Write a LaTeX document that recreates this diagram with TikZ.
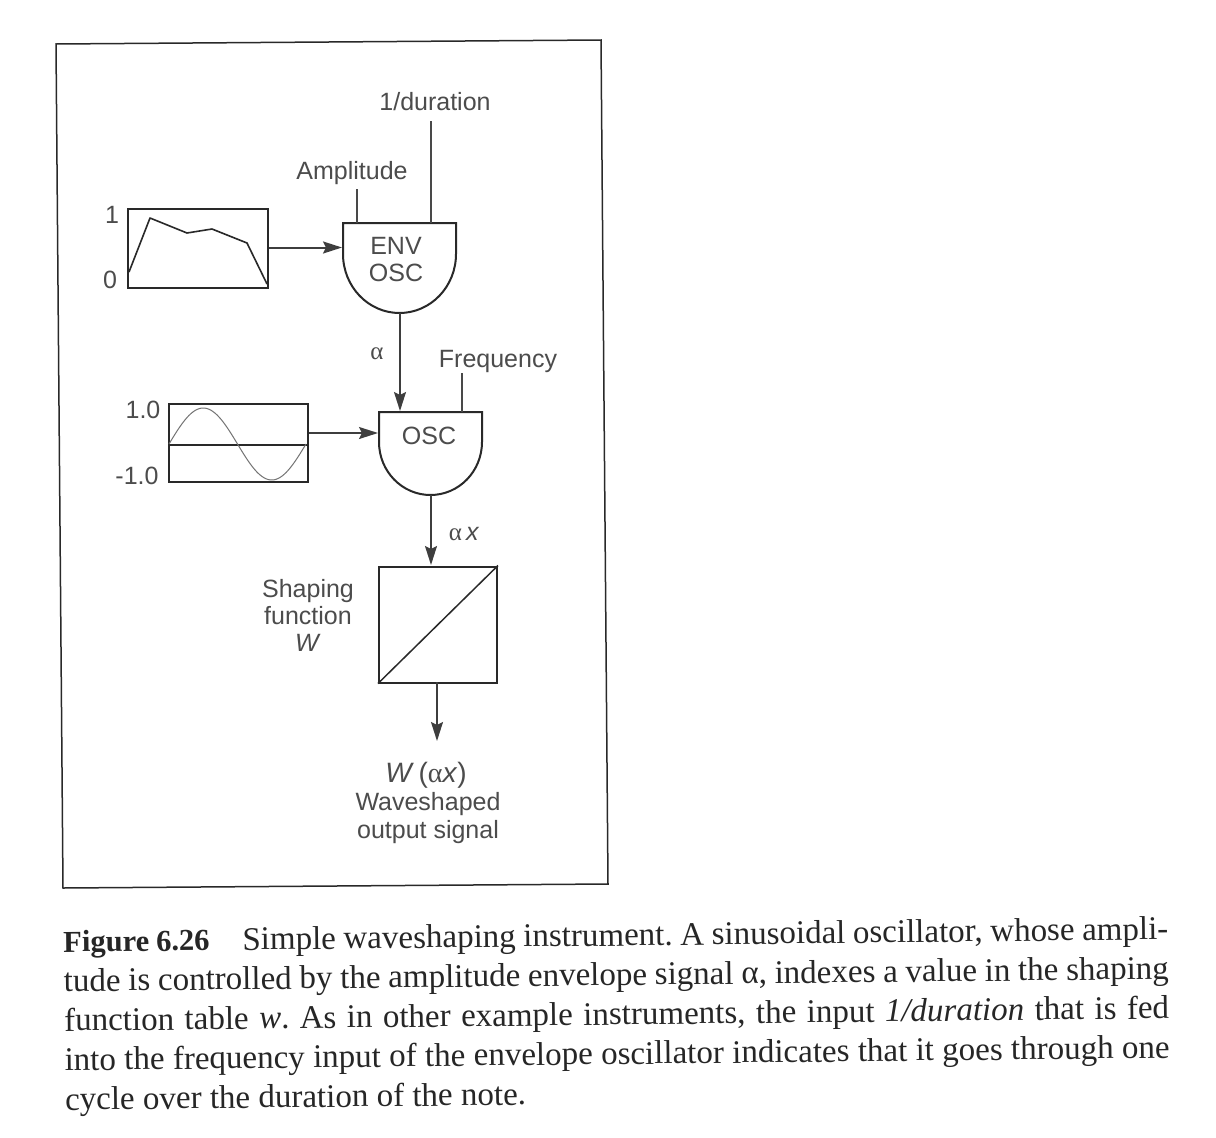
\documentclass[tikz,border=0pt]{standalone}
\usepackage{fontspec}
\setmainfont{Liberation Sans}
\newfontfamily\capfont{Liberation Serif}
\usetikzlibrary{arrows.meta}
\definecolor{ink}{gray}{0.16}
\definecolor{labelgrey}{gray}{0.30}
\tikzset{
  shapeline/.style={draw=ink,line width=2pt},
  thinline/.style={draw=ink!85,line width=1.3pt},
  sig/.style={draw=ink!90,line width=1.5pt,-{Stealth[length=19pt,width=12pt,inset=3pt]}},
  lab/.style={text=labelgrey,font=\fontsize{25}{29}\selectfont,inner sep=0pt,align=center},
  tablebox/.style={shapeline,inner sep=0pt,anchor=north west},
}
\begin{document}
\begin{tikzpicture}[x=1pt,y=-1pt]
\useasboundingbox (0,0) rectangle (1216,1138);
\fill[white] (0,0) rectangle (1216,1138);
% frame
\draw[draw=ink,line width=1.5pt] (56,44) -- (601,40) -- (608,884) -- (63,888) -- cycle;
% envelope table
\node[tablebox,minimum width=140pt,minimum height=79pt] (envtab) at (127,208) {};
\draw[ink,line width=1.6pt,line join=round] (129,272) -- (150,218) -- (187,233) -- (212,229) -- (247,243) -- (267,284);
\node[lab] (one) at (112,215) {1};
\node[lab] (zero) at (110,280) {0};
% ENV OSC
\draw[shapeline,fill=white] (343,223) -- (456,223) -- (456,254) arc[start angle=0,end angle=180,x radius=56.5,y radius=59] -- cycle;
\coordinate (envin) at (342,247.5);
\coordinate (envamp) at (357,223);
\coordinate (envdur) at (431,223);
\coordinate (envout) at (400,313);
\node[lab] (envlab) at (396,245.5) {ENV};
\node[lab] (osclabA) at (396,273) {OSC};
% sine table
\node[tablebox,minimum width=139pt,minimum height=78pt] (sintab) at (168,402.5) {};
\draw[ink,line width=1.5pt] (168,445) -- (307,445);
\draw[gray!90!black,line width=1pt] plot[domain=169:306,samples=70] (\x,{444-36*sin((\x-169)/137*360)});
\node[lab] (hi) at (143,410) {1.0};
\node[lab] (lo) at (137,476) {-1.0};
% OSC
\draw[shapeline,fill=white] (379,412) -- (482,412) -- (482,442) arc[start angle=0,end angle=180,x radius=51.5,y radius=53] -- cycle;
\coordinate (oscin) at (378,433);
\coordinate (oscamp) at (400,411);
\coordinate (oscfreq) at (462,412);
\coordinate (oscout) at (431,495);
\node[lab] (osclabB) at (429,436) {OSC};
% shaping box
\node[tablebox,minimum width=118pt,minimum height=116pt] (shape) at (378,565.5) {};
\draw[ink,line width=1.5pt] (shape.south west) -- (shape.north east);
% free ends
\coordinate (ampend) at (357,189);
\coordinate (durend) at (431,121);
\coordinate (freqend) at (462,373);
\coordinate (shapein) at (431,565);
\coordinate (shapeout) at (437,682);
\coordinate (outend) at (437,741);
% connectors
\draw[thinline] (ampend) -- (envamp);
\draw[thinline] (durend) -- (envdur);
\draw[thinline] (freqend) -- (oscfreq);
\draw[sig,line width=2pt] (envtab.east |- envin) -- (envin);
\draw[sig] (envout) -- (oscamp);
\draw[sig] (sintab.east |- oscin) -- (oscin);
\draw[sig] (oscout) -- (shapein);
\draw[sig] (shapeout) -- (outend);
% labels
\node[lab] (durlab) at (435,102) {1/duration};
\node[lab] (amplab) at (352,173) {Amplitude};
\node[lab] (freqlab) at (498,361) {Frequency};
\node[lab] (alab) at (377,354) {\capfont α};
\node[lab] (axlab) at (464,534) {{\capfont α}\,\textit{x}};
\node[lab,font=\fontsize{25}{27}\selectfont] (shapelab) at (308,615) {Shaping\\function\\\textit{W}};
\node[lab,font=\fontsize{28}{30}\selectfont] (wout) at (426,775) {\textit{W}\,({\capfont α}\textit{x})};
\node[lab,font=\fontsize{25}{28}\selectfont] (outlab) at (428,818) {Waveshaped\\output signal};
% caption
\node[anchor=north west,inner sep=0pt,rotate=0.65,text width=1105pt,align=justify,
      font=\capfont\fontsize{33}{39.5}\selectfont,text=black!85] (caption) at (63,929)
 {\frenchspacing\textbf{\fontsize{30.5}{39.5}\selectfont Figure 6.26}\hspace{1em}Simple waveshaping instrument. A sinusoidal oscillator, whose ampli-\linebreak
 tude is controlled by the amplitude envelope signal α, indexes a value in the shaping\linebreak
 function table \textit{w}. As in other example instruments, the input \textit{1/duration} that is fed\linebreak
 into the frequency input of the envelope oscillator indicates that it goes through one\linebreak
 cycle over the duration of the note.};
\end{tikzpicture}
\end{document}
